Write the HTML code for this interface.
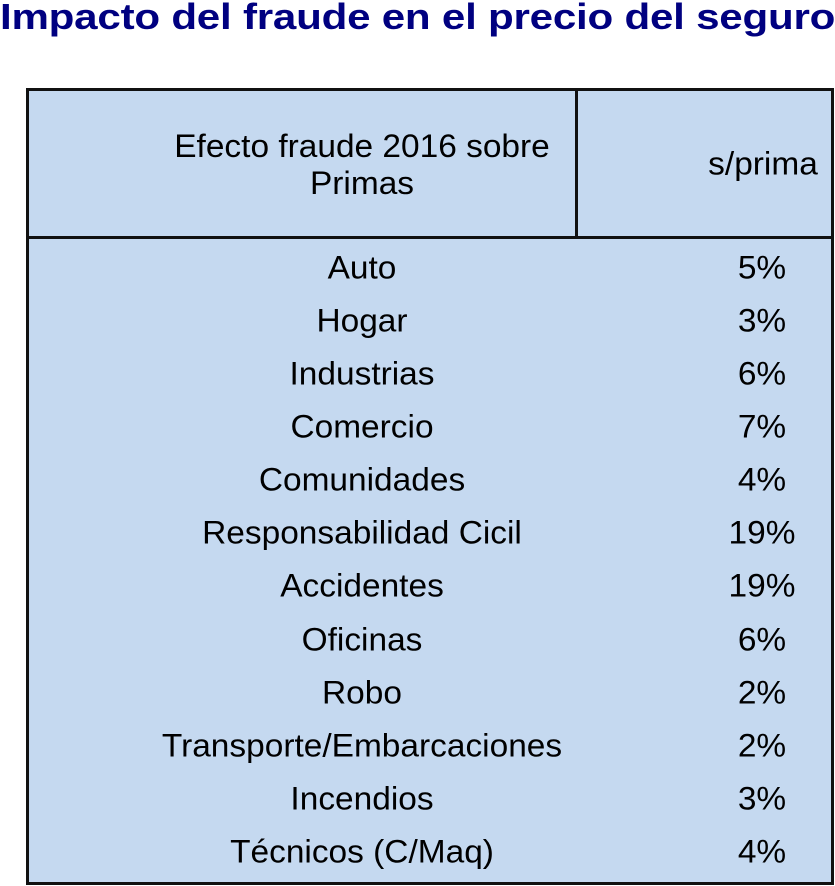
<!DOCTYPE html>
<html><head><meta charset="utf-8"><style>
body{margin:0;width:835px;height:886px;background:#fff;position:relative;overflow:hidden;font-family:"Liberation Sans",Arial,sans-serif;}
.title{position:absolute;left:0;top:-4px;font-size:36px;line-height:41px;font-weight:bold;color:#000080;white-space:nowrap;letter-spacing:-0.2px;transform-origin:0 0;transform:scaleX(1.17)}
.box{position:absolute;left:26px;top:88px;width:802px;height:791px;border:3px solid #111;background:#C5D9F0}
.hline{position:absolute;left:0;top:145px;width:802px;height:3px;background:#111}
.vline{position:absolute;left:546px;top:0;width:3px;height:146px;background:#111}
.t{position:absolute;font-size:32px;color:#000;white-space:nowrap;transform:translate(-50%,-50%) scaleX(1.045);text-align:center;line-height:37px}
</style></head><body>
<div class="title">Impacto del fraude en el precio del seguro</div>
<div class="box"><div class="hline"></div><div class="vline"></div></div>
<div class="t" style="left:362px;top:165px">Efecto fraude 2016 sobre<br>Primas</div>
<div class="t" style="left:763px;top:164px">s/prima</div>
<div class="t" style="left:362px;top:268px">Auto</div><div class="t" style="left:762px;top:268px">5%</div>
<div class="t" style="left:362px;top:321px">Hogar</div><div class="t" style="left:762px;top:321px">3%</div>
<div class="t" style="left:362px;top:374px">Industrias</div><div class="t" style="left:762px;top:374px">6%</div>
<div class="t" style="left:362px;top:427px">Comercio</div><div class="t" style="left:762px;top:427px">7%</div>
<div class="t" style="left:362px;top:480px">Comunidades</div><div class="t" style="left:762px;top:480px">4%</div>
<div class="t" style="left:362px;top:533px">Responsabilidad Cicil</div><div class="t" style="left:762px;top:533px">19%</div>
<div class="t" style="left:362px;top:586px">Accidentes</div><div class="t" style="left:762px;top:586px">19%</div>
<div class="t" style="left:362px;top:640px">Oficinas</div><div class="t" style="left:762px;top:640px">6%</div>
<div class="t" style="left:362px;top:693px">Robo</div><div class="t" style="left:762px;top:693px">2%</div>
<div class="t" style="left:362px;top:746px">Transporte/Embarcaciones</div><div class="t" style="left:762px;top:746px">2%</div>
<div class="t" style="left:362px;top:799px">Incendios</div><div class="t" style="left:762px;top:799px">3%</div>
<div class="t" style="left:362px;top:852px">Técnicos (C/Maq)</div><div class="t" style="left:762px;top:852px">4%</div>
</body></html>
